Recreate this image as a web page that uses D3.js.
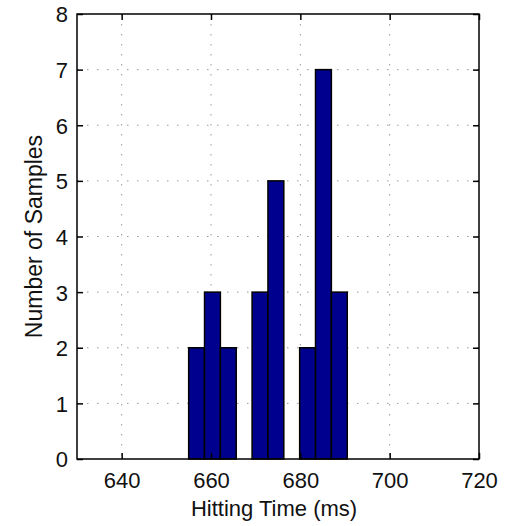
<!DOCTYPE html>
<html><head><meta charset="utf-8">
<script src="https://cdn.jsdelivr.net/npm/d3@7"></script>
<style>body{margin:0;background:#fff}svg{display:block}text{font-family:"Liberation Sans",Arial,sans-serif;fill:#111}</style>
</head><body><svg id="c" width="509" height="526"></svg>
<script>
const binStart = 655.0;
const binWidth = 3.55;
const counts = [2, 3, 2, 0, 3, 5, 0, 2, 7, 3];
const xTicks = [640, 660, 680, 700, 720];
const yTicks = [0, 1, 2, 3, 4, 5, 6, 7, 8];
const xDomain = [630, 720];
const yDomain = [0, 8];
const xLabel = "Hitting Time (ms)";
const yLabel = "Number of Samples";

const bins = counts.map((c, i) => ({x0: binStart + i * binWidth, x1: binStart + (i + 1) * binWidth, n: c}));

const svg = d3.select("#c");
const L = 77, R = 479, T = 14, B = 459;
const x = d3.scaleLinear().domain(xDomain).range([L, R]);
const y = d3.scaleLinear().domain(yDomain).range([B, T]);
const fs = 22;

// grid
const g = svg.append("g");
g.selectAll("line.gx").data(xTicks.filter(d => d > xDomain[0] && d < xDomain[1])).join("line")
  .attr("x1", d => x(d)).attr("x2", d => x(d)).attr("y1", T).attr("y2", B)
  .attr("stroke", "#999").attr("stroke-width", 1).attr("stroke-dasharray", "1.5,8.5");
g.selectAll("line.gy").data(yTicks.filter(d => d > yDomain[0] && d < yDomain[1])).join("line")
  .attr("y1", d => y(d)).attr("y2", d => y(d)).attr("x1", L).attr("x2", R)
  .attr("stroke", "#999").attr("stroke-width", 1).attr("stroke-dasharray", "1.5,8.5");

// bars
svg.append("g").selectAll("rect").data(bins.filter(b => b.n > 0)).join("rect")
  .attr("x", d => x(d.x0)).attr("width", d => x(d.x1) - x(d.x0))
  .attr("y", d => y(d.n)).attr("height", d => y(0) - y(d.n))
  .attr("fill", "#00008F").attr("stroke", "#000").attr("stroke-width", 1.5);

// axes
const ax = svg.append("g").attr("transform", `translate(0,${B})`)
  .call(d3.axisBottom(x).tickValues(xTicks).tickSizeInner(-6).tickSizeOuter(0).tickPadding(13));
const axT = svg.append("g").attr("transform", `translate(0,${T})`)
  .call(d3.axisTop(x).tickValues(xTicks).tickSizeInner(-6).tickSizeOuter(0).tickFormat(""));
const ay = svg.append("g").attr("transform", `translate(${L},0)`)
  .call(d3.axisLeft(y).tickValues(yTicks).tickSizeInner(-6).tickSizeOuter(0).tickPadding(9));
const ayR = svg.append("g").attr("transform", `translate(${R},0)`)
  .call(d3.axisRight(y).tickValues(yTicks).tickSizeInner(-6).tickSizeOuter(0).tickFormat(""));
[ax, axT, ay, ayR].forEach(a => {
  a.selectAll("path.domain").remove();
  a.selectAll(".tick line").attr("stroke", "#000").attr("stroke-width", 1.5);
  a.selectAll("text").attr("font-size", fs).attr("font-family", "Liberation Sans, Arial, sans-serif").attr("fill", "#111");
});
ay.selectAll("text").attr("dy", "0.36em");
ax.selectAll("text").attr("dy", "0.71em");

svg.append("rect").attr("x", L).attr("y", T).attr("width", R - L).attr("height", B - T)
  .attr("fill", "none").attr("stroke", "#000").attr("stroke-width", 1.5);

svg.append("text").attr("x", (L + R) / 2 - 4).attr("y", 516).attr("text-anchor", "middle")
  .attr("font-size", fs).text(xLabel);
svg.append("text").attr("transform", `translate(42,${(T + B) / 2}) rotate(-90)`).attr("text-anchor", "middle")
  .attr("font-size", fs + 1).text(yLabel);
</script></body></html>
